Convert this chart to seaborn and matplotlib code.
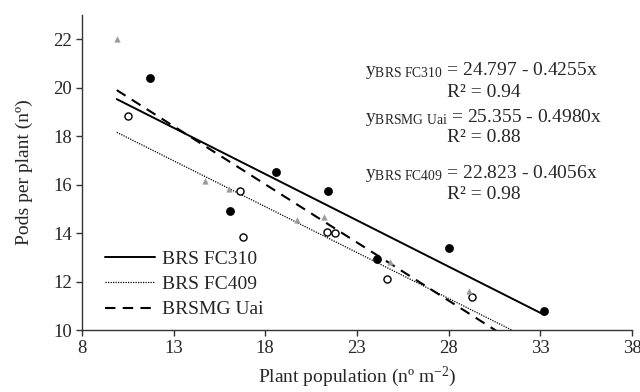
import numpy as np
import pandas as pd
import matplotlib
matplotlib.use("Agg")
import matplotlib.pyplot as plt
from matplotlib.lines import Line2D
import seaborn as sns

# ---- data ----
fc310_x = [11.7, 16.1, 18.6, 21.4, 24.1, 28.0, 33.2]
fc310_y = [20.4, 14.9, 16.5, 15.75, 12.95, 13.4, 10.8]
fc409_x = [10.5, 16.6, 16.8, 21.35, 21.8, 24.65, 29.3]
fc409_y = [18.85, 15.75, 13.85, 14.05, 14.0, 12.1, 11.35]
uai_x = [9.9, 14.7, 16.0, 19.75, 21.2, 24.8, 29.1]
uai_y = [22.0, 16.15, 15.8, 14.55, 14.65, 12.8, 11.6]

labels = ["BRS FC310", "BRS FC409", "BRSMG Uai"]
subs = ["BRS\\ FC310", "BRSMG\\ Uai", "BRS\\ FC409"]
eq_values = ["= 24.797 - 0.4255x", "= 25.355 - 0.4980x", "= 22.823 - 0.4056x"]
r2_values = ["R² = 0.94", "R² = 0.88", "R² = 0.98"]
x_ticks = [8, 13, 18, 23, 28, 33, 38]
y_ticks = [10, 12, 14, 16, 18, 20, 22]

sns.set_style("white")
plt.rcParams["font.family"] = ["Liberation Serif", "DejaVu Serif"]
plt.rcParams["mathtext.fontset"] = "custom"
plt.rcParams["mathtext.rm"] = "Liberation Serif"
plt.rcParams["mathtext.it"] = "Liberation Serif"

fig, ax = plt.subplots(figsize=(6.4, 3.92), dpi=100)
fig.subplots_adjust(left=0.128, right=0.9875, bottom=0.158, top=0.962)

df = pd.concat([
    pd.DataFrame({"x": fc310_x, "y": fc310_y, "cv": labels[0]}),
    pd.DataFrame({"x": fc409_x, "y": fc409_y, "cv": labels[1]}),
    pd.DataFrame({"x": uai_x, "y": uai_y, "cv": labels[2]}),
])

# regression lines over the full x range
xmin, xmax = df["x"].min(), df["x"].max()
styles = {labels[0]: dict(ls="-", lw=1.4),
          labels[1]: dict(ls=(0, (1, 1.0)), lw=0.9),
          labels[2]: dict(ls=(0, (5, 3.5)), lw=1.5)}
for cv in labels:
    sub = df[df["cv"] == cv]
    b, a = np.polyfit(sub["x"], sub["y"], 1)
    xl = np.array([xmin, xmax])
    ldf = pd.DataFrame({"x": xl, "y": a + b * xl})
    sns.lineplot(data=ldf, x="x", y="y", ax=ax, color="black",
                 linestyle=styles[cv]["ls"], linewidth=styles[cv]["lw"],
                 zorder=2)

# points
sns.scatterplot(data=df[df["cv"] == labels[0]], x="x", y="y", ax=ax,
                color="black", s=34, marker="o", edgecolor="black", zorder=3)
sns.scatterplot(data=df[df["cv"] == labels[1]], x="x", y="y", ax=ax,
                facecolor="white", s=26, marker="o", edgecolor="black",
                linewidth=1.0, zorder=3)
sns.scatterplot(data=df[df["cv"] == labels[2]], x="x", y="y", ax=ax,
                color="#9a9a9a", s=16, marker="^", edgecolor="#9a9a9a", zorder=3)

ax.set_xlim(8, 38)
ax.set_ylim(10, 23)
ax.set_xticks(x_ticks)
ax.set_yticks(y_ticks)
ax.tick_params(axis="both", which="both", direction="out", length=4,
               width=1, color="#333333", labelsize=13.5, pad=3,
               bottom=True, left=True)
for s in ["top", "right"]:
    ax.spines[s].set_visible(False)
for s in ["left", "bottom"]:
    ax.spines[s].set_color("#333333")
    ax.spines[s].set_linewidth(1.0)

ax.set_xlabel("Plant population (nº m$^{\\mathregular{-2}}$)", fontsize=14, labelpad=6)
ax.set_ylabel("Pods per plant (nº)", fontsize=14, labelpad=15)

handles = [Line2D([0], [0], color="black", linestyle=styles[cv]["ls"],
                  linewidth=styles[cv]["lw"]) for cv in labels]
ax.legend(handles, labels, loc="lower left", bbox_to_anchor=(0.02, 0.0),
          frameon=False, fontsize=14, handlelength=2.6, labelspacing=0.4,
          handletextpad=0.35, borderaxespad=0.2)

# equations
eq_y = [0.821, 0.701, 0.558]
r2_y = [0.765, 0.648, 0.503]
for sb, ev, rv, ey, ry in zip(subs, eq_values, r2_values, eq_y, r2_y):
    fig.text(0.571, ey, "$\\mathregular{y_{%s}}$ %s" % (sb, ev), fontsize=14,
             ha="left", va="center")
    fig.text(0.698, ry, rv, fontsize=14, ha="left", va="center")

fig.savefig("out.png", dpi=100)
